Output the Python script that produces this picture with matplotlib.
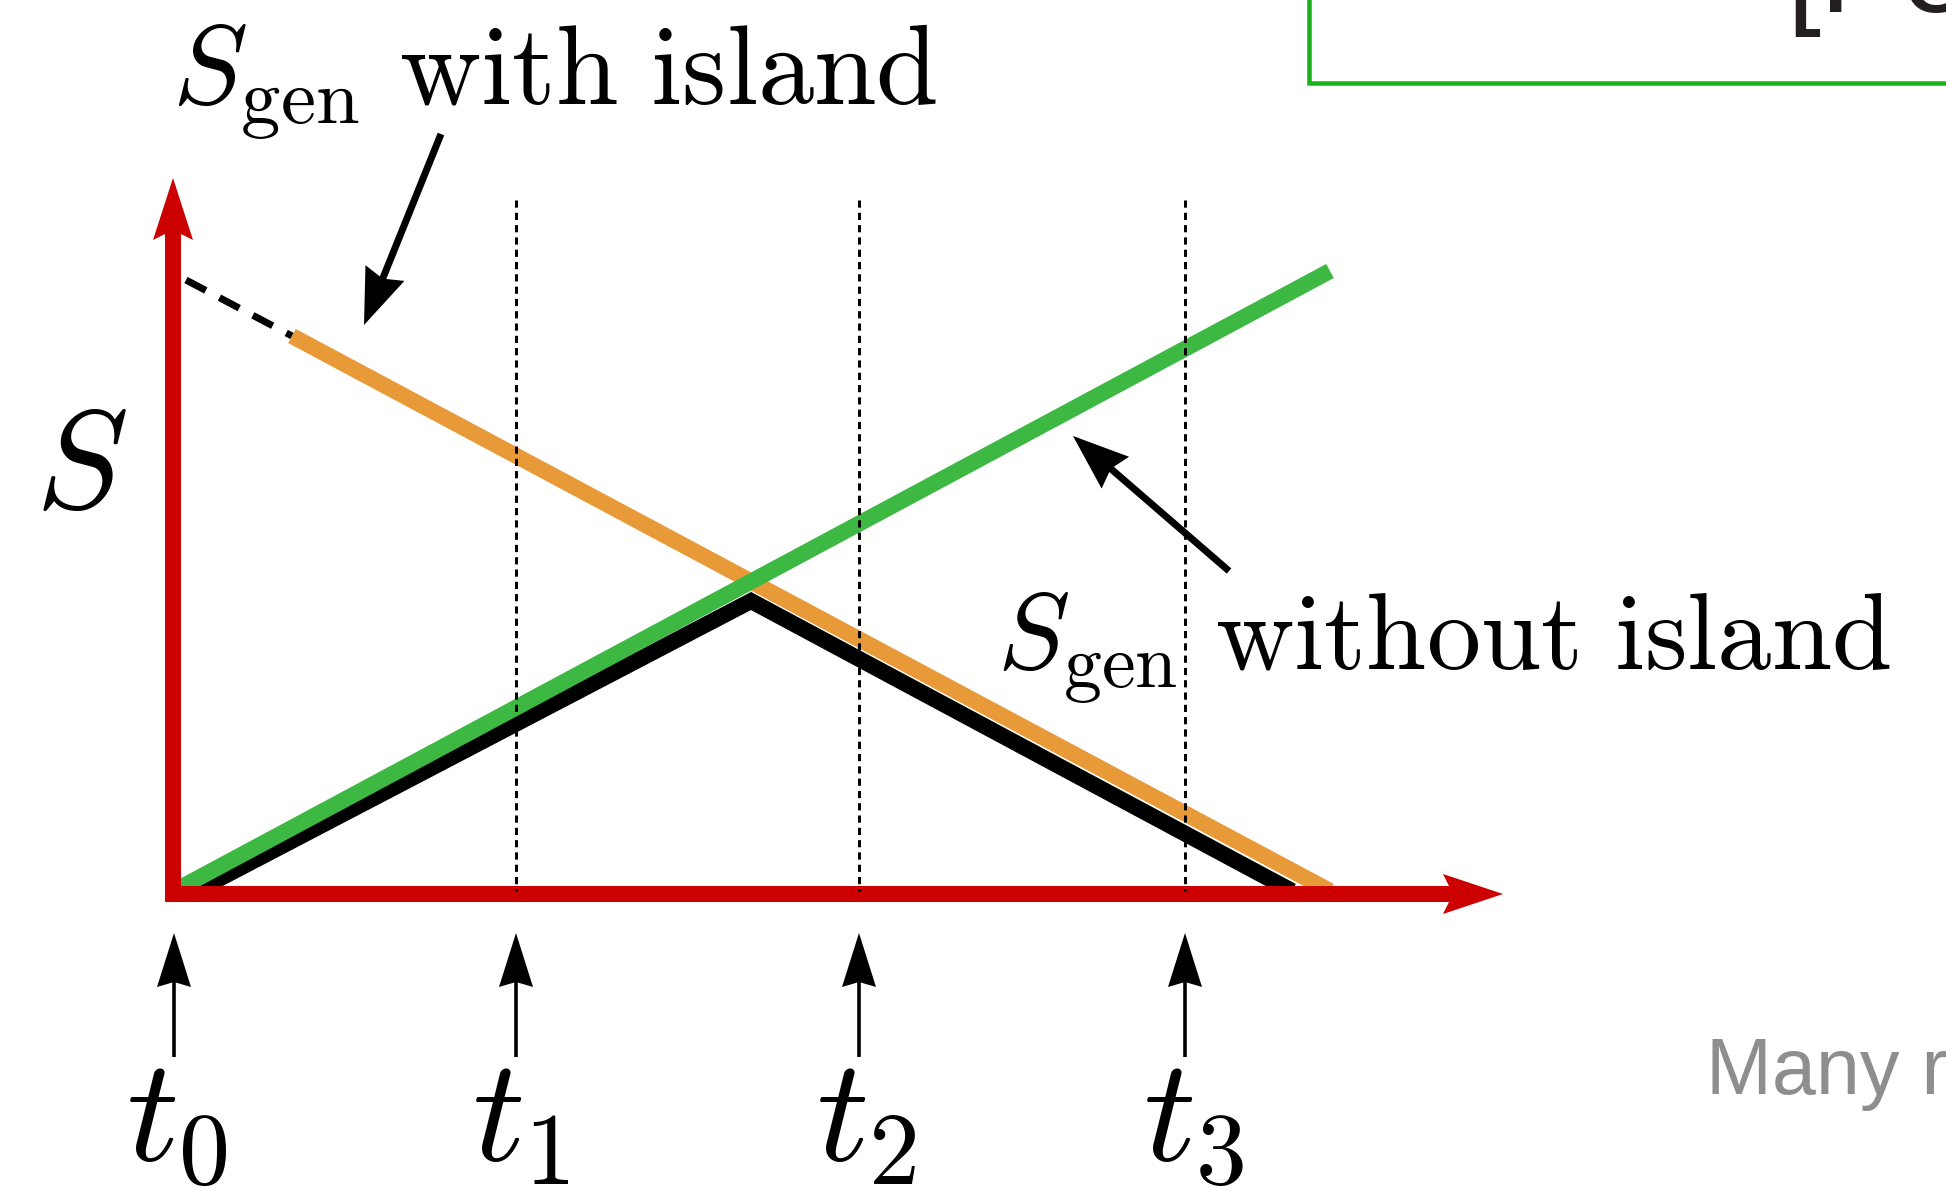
import matplotlib
matplotlib.use('Agg')
import matplotlib.pyplot as plt
import numpy as np
from matplotlib.patches import Polygon, Rectangle

plt.rcParams['mathtext.fontset'] = 'cm'

W, H = 1946, 1196
PX = 100 / 72.0  # pixels per point at dpi 100

# the diagram lives in canvas pixel units (y grows downwards)
t_labels = [r'$t_0$', r'$t_1$', r'$t_2$', r'$t_3$']
t_pos = [174, 516, 859, 1185]
t_label_x = [177, 521, 866, 1194]

# S_gen without island (grows linearly)
green_x = [176, 1330]
green_y = [890, 271]
# S_gen with island (decreases), dashed part before it is defined
orange_x = [292, 1330]
orange_y = [336, 891]
dash_x = [186, 292]
dash_y = [280, 336]
# Page curve = min of the two
black_x = [192, 751, 1292]
black_y = [893, 601, 891]

RED = '#CC0000'
GREEN = '#3DB843'
ORANGE = '#E89A38'


def head(ax, tip, tail, length, width, notch, color, z):
    tip = np.array(tip, float)
    d = tip - np.array(tail, float)
    d /= np.hypot(*d)
    n = np.array([-d[1], d[0]])
    base = tip - d * length
    pts = [tip, base + n * width / 2, tip - d * (length - notch), base - n * width / 2]
    ax.add_patch(Polygon(pts, closed=True, fc=color, ec='none', zorder=z))
    return tip - d * (length - notch - 2)


def arrow(ax, tail, tip, lw, color, length, width, notch, z=6):
    stop = head(ax, tip, tail, length, width, notch, color, z)
    ax.plot([tail[0], stop[0]], [tail[1], stop[1]], color=color, lw=lw,
            solid_capstyle='butt', zorder=z)


fig = plt.figure(figsize=(W / 100, H / 100), dpi=100)
ax = fig.add_axes([0, 0, 1, 1])
ax.set_xlim(0, W)
ax.set_ylim(H, 0)
ax.axis('off')

# curves
ax.plot(black_x, black_y, color='black', lw=16 / PX, solid_capstyle='butt',
        solid_joinstyle='miter', zorder=2)
ax.plot(orange_x, orange_y, color=ORANGE, lw=16 / PX, solid_capstyle='butt', zorder=2.5)
ax.plot(green_x, green_y, color=GREEN, lw=16 / PX, solid_capstyle='butt', zorder=3)
ax.plot(dash_x, dash_y, color='black', lw=7 / PX, dashes=(3.2, 2.2), zorder=2)

# time markers
for x in t_pos[1:]:
    ax.plot([x, x], [200, 891], color='black', lw=3 / PX, dashes=(2.4, 1.7), zorder=5)

# red axes
arrow(ax, (165, 894), (1503, 894), 16 / PX, RED, 60, 40, 10, z=4)
arrow(ax, (173, 902), (173, 178), 16 / PX, RED, 62, 40, 10, z=4)

# bottom arrows and labels
for x, lx, lab in zip(t_pos, t_label_x, t_labels):
    arrow(ax, (x, 1057), (x, 933), 3.6 / PX, 'black', 54, 34, 5)
    ax.text(lx, 1160, lab, fontsize=105, ha='center', va='baseline')

# annotations
arrow(ax, (441, 134), (364, 325), 7 / PX, 'black', 56, 42, 6)
arrow(ax, (1229, 571), (1073, 436), 7 / PX, 'black', 56, 42, 6)

ax.text(172, 105, r'$S_{\mathrm{gen}}\ \mathrm{with\ island}$', fontsize=81,
        ha='left', va='baseline')
ax.text(997, 670, r'$S_{\mathrm{gen}}\ \mathrm{without\ island}$', fontsize=78,
        ha='left', va='baseline')
ax.text(35, 508, r'$S$', fontsize=100, ha='left', va='baseline')

# slide leftovers around the figure
ax.add_patch(Rectangle((1309, -30), 800, 113, fc='none', ec='#1DB01D',
                       lw=4.5 / PX, zorder=1))
ax.text(1786, 12, '[Penington', fontsize=88, color='#231F20',
        family='Liberation Sans', ha='left', va='baseline')
ax.text(1706, 1094, 'Many recent', fontsize=57, color='#8E8E8E',
        family='Liberation Sans', ha='left', va='baseline')

fig.savefig('out.png', dpi=100)
